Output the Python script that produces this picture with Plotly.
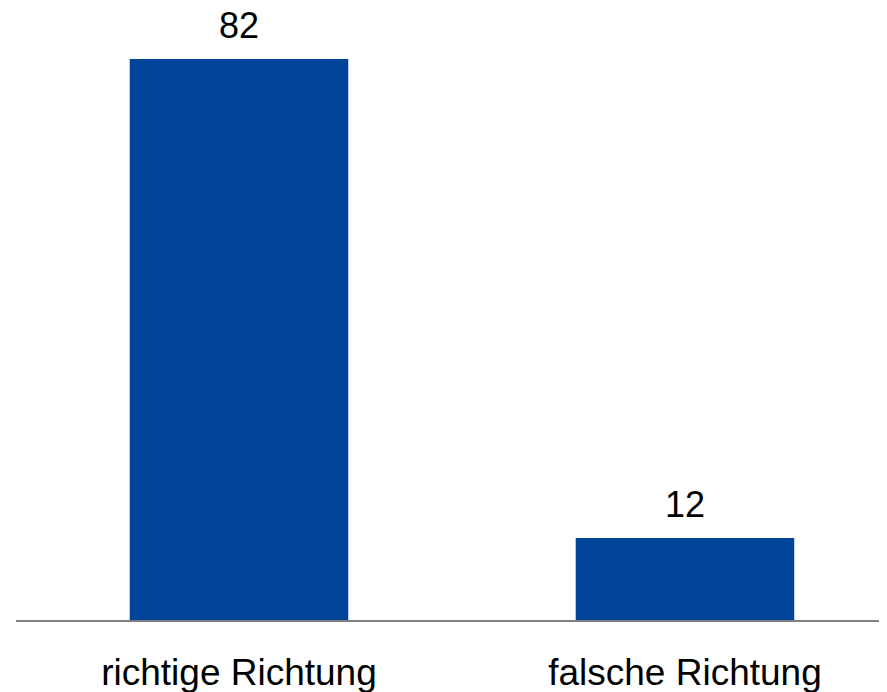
import plotly.graph_objects as go

categories = ["richtige Richtung", "falsche Richtung"]
values = [82, 12]
bar_color = "#00449A"

fig = go.Figure()
fig.add_trace(go.Bar(
    x=categories, y=values, width=0.49,
    marker=dict(color=bar_color, line=dict(width=0)),
    hoverinfo="skip",
))

for c, v in zip(categories, values):
    fig.add_annotation(x=c, y=v, text=str(v), showarrow=False,
                       yanchor="bottom", yshift=11,
                       font=dict(family="Liberation Sans, Arial, sans-serif", size=36, color="black"))

fig.update_layout(
    width=879, height=684,
    margin=dict(l=8, r=0, t=12, b=72),
    plot_bgcolor="white", paper_bgcolor="white",
    showlegend=False,
    font=dict(family="Liberation Sans, Arial, sans-serif", size=37, color="black"),
    xaxis=dict(range=[-0.5, 1.453], showline=True, linecolor="#808080", linewidth=2,
               ticks="", showgrid=False, zeroline=False, automargin=False,
               tickfont=dict(size=37, color="black"), ticklabelstandoff=19),
    yaxis=dict(range=[0, 87.7], visible=False, showgrid=False, zeroline=False),
)

fig.write_html("out.html")
